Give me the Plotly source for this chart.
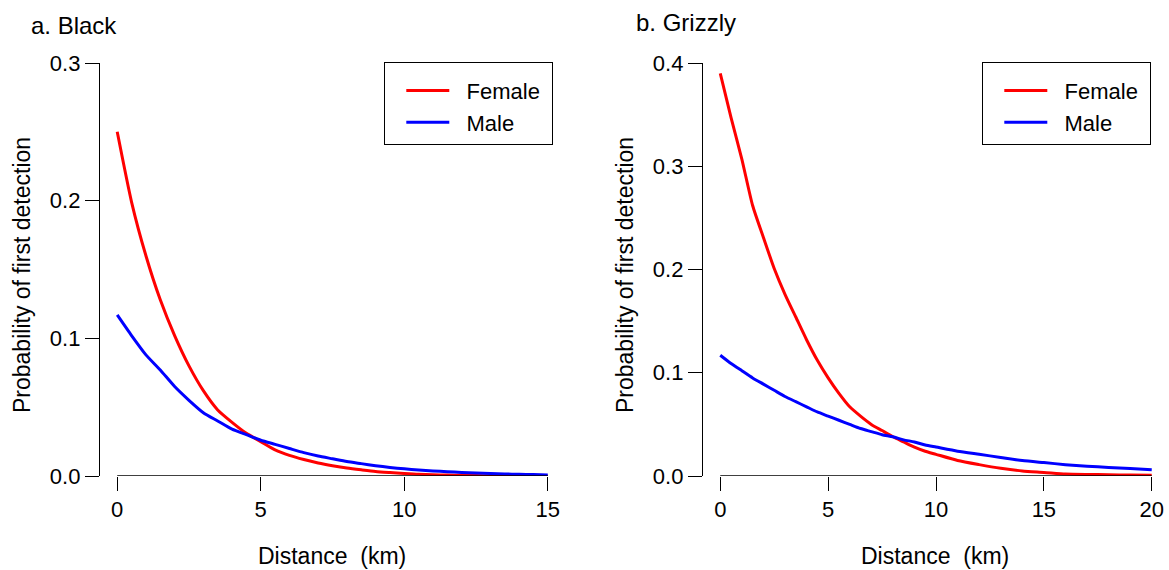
import plotly.graph_objects as go

# ---------------- data ----------------
dist_black = [0, 0.5, 1, 1.5, 2, 2.5, 3, 3.5, 4, 4.5, 5, 5.5, 6, 6.5, 7, 7.5, 8,
              8.5, 9, 9.5, 10, 10.5, 11, 11.5, 12, 12.5, 13, 13.5, 14, 14.5, 15]
black_female = [0.250, 0.199, 0.160, 0.128, 0.102, 0.080, 0.062, 0.048, 0.039, 0.031,
                0.025, 0.019, 0.015, 0.012, 0.0095, 0.0075, 0.0058, 0.0045, 0.0033,
                0.0025, 0.0018, 0.0012, 0.0009, 0.0007, 0.0005, 0.0003, 0.0002,
                0.0001, 0.0001, 0.0, 0.0]
black_male = [0.117, 0.102, 0.088, 0.077, 0.065, 0.055, 0.046, 0.040, 0.034, 0.030,
              0.026, 0.023, 0.020, 0.017, 0.0145, 0.0125, 0.0105, 0.009, 0.0075,
              0.0062, 0.0052, 0.0044, 0.0037, 0.0031, 0.0026, 0.0021, 0.0018,
              0.0015, 0.0012, 0.0010, 0.0008]

dist_grizzly = [0, 0.5, 1, 1.5, 2, 2.5, 3, 3.5, 4, 4.5, 5, 5.5, 6, 6.5, 7, 7.5, 8,
                8.5, 9, 9.5, 10, 11, 12, 13, 14, 15, 16, 17, 18, 19, 20]
grizzly_female = [0.390, 0.347, 0.307, 0.262, 0.231, 0.201, 0.176, 0.154, 0.132, 0.112,
                  0.095, 0.080, 0.067, 0.058, 0.050, 0.044, 0.038, 0.033, 0.028,
                  0.024, 0.021, 0.015, 0.011, 0.0075, 0.0048, 0.0035, 0.002,
                  0.0015, 0.0012, 0.0009, 0.0007]
grizzly_male = [0.117, 0.109, 0.102, 0.095, 0.089, 0.083, 0.077, 0.072, 0.067, 0.062,
                0.058, 0.054, 0.050, 0.046, 0.043, 0.040, 0.038, 0.035, 0.033,
                0.030, 0.028, 0.024, 0.021, 0.018, 0.015, 0.013, 0.011, 0.0095,
                0.0083, 0.0072, 0.006]

xticks_black = [0, 5, 10, 15]
xticks_grizzly = [0, 5, 10, 15, 20]
yticks_black = [0.0, 0.1, 0.2, 0.3]
yticks_grizzly = [0.0, 0.1, 0.2, 0.3, 0.4]

series_names = ["Female", "Male"]
colors = ["#FF0000", "#0000FF"]

panel_titles = ["a. Black", "b. Grizzly"]
xlabel = "Distance\u00a0 (km)"
ylabel = "Probability of first detection"

# ---------------- figure ----------------
W, H = 1169, 570
FONT = "Liberation Sans, Arial, sans-serif"
FS_TICK = 22
FS = 23
NB = "\u00a0"

fig = go.Figure()

for i, (yv, nm) in enumerate(zip([black_female, black_male], series_names)):
    fig.add_trace(go.Scatter(x=dist_black, y=yv, mode="lines", name=NB * 2 + nm + NB,
                             line=dict(color=colors[i], width=3, shape="spline", smoothing=0.6),
                             xaxis="x", yaxis="y", legend="legend"))
for i, (yv, nm) in enumerate(zip([grizzly_female, grizzly_male], series_names)):
    fig.add_trace(go.Scatter(x=dist_grizzly, y=yv, mode="lines", name=NB * 2 + nm + NB,
                             line=dict(color=colors[i], width=3, shape="spline", smoothing=0.6),
                             xaxis="x2", yaxis="y2", legend="legend2"))

def px_x(p):
    return p / W

def px_y(p):
    return 1 - p / H

ydom = [px_y(476), px_y(63)]

common_ax = dict(showgrid=False, zeroline=False, ticks="outside", ticklen=14,
                 tickwidth=1.3, tickcolor="black", automargin=False,
                 tickfont=dict(family=FONT, size=FS_TICK, color="black"))

pad_a = 0.04 * (xticks_black[-1] - xticks_black[0])
pad_b = 0.04 * (xticks_grizzly[-1] - xticks_grizzly[0])

legend_common = dict(xanchor="right", yanchor="top",
                     bordercolor="black", borderwidth=1.3, bgcolor="white",
                     font=dict(family=FONT, size=22), itemwidth=43, indentation=16,
                     title=dict(text=NB, font=dict(size=5)))

fig.update_layout(
    width=W, height=H,
    margin=dict(l=0, r=0, t=0, b=0),
    paper_bgcolor="white", plot_bgcolor="white",
    font=dict(family=FONT, size=FS, color="black"),
    xaxis=dict(domain=[px_x(100), px_x(565)], anchor="y",
               range=[xticks_black[0] - pad_a, xticks_black[-1] + pad_a],
               tickvals=xticks_black, showline=False, **common_ax),
    yaxis=dict(domain=ydom, anchor="x",
               range=[yticks_black[0], yticks_black[-1]],
               tickvals=yticks_black, ticktext=[f"{v:.1f}" for v in yticks_black],
               showline=True, linecolor="black", linewidth=1.3, **common_ax),
    xaxis2=dict(domain=[px_x(703), 1.0], anchor="y2",
                range=[xticks_grizzly[0] - pad_b, xticks_grizzly[-1] + pad_b],
                tickvals=xticks_grizzly, showline=False, **common_ax),
    yaxis2=dict(domain=ydom, anchor="x2",
                range=[yticks_grizzly[0], yticks_grizzly[-1]],
                tickvals=yticks_grizzly, ticktext=[f"{v:.1f}" for v in yticks_grizzly],
                showline=True, linecolor="black", linewidth=1.3, **common_ax),
    legend=dict(x=px_x(553), y=px_y(62), **legend_common),
    legend2=dict(x=px_x(1151), y=px_y(62), **legend_common),
)

# R-style x axis lines spanning first to last tick
fig.add_shape(type="line", xref="x", yref="y", x0=xticks_black[0], x1=xticks_black[-1],
              y0=0, y1=0, line=dict(color="black", width=1.3))
fig.add_shape(type="line", xref="x2", yref="y2", x0=xticks_grizzly[0], x1=xticks_grizzly[-1],
              y0=0, y1=0, line=dict(color="black", width=1.3))

# panel titles
fig.add_annotation(text=panel_titles[0], xref="paper", yref="paper", x=px_x(29), y=px_y(25),
                   xanchor="left", yanchor="middle", showarrow=False, font=dict(size=24))
fig.add_annotation(text=panel_titles[1], xref="paper", yref="paper", x=px_x(634), y=px_y(22),
                   xanchor="left", yanchor="middle", showarrow=False, font=dict(size=24))

# axis titles
for xc in [332, 935]:
    fig.add_annotation(text=xlabel, xref="paper", yref="paper", x=px_x(xc), y=px_y(556),
                       xanchor="center", yanchor="middle", showarrow=False, font=dict(size=FS))
for xc in [22, 625]:
    fig.add_annotation(text=ylabel, xref="paper", yref="paper", x=px_x(xc), y=px_y(275),
                       xanchor="center", yanchor="middle", showarrow=False, textangle=-90,
                       font=dict(size=FS))

fig.write_html("out.html", config={"displayModeBar": False},
               post_script="document.body.style.margin='0';")
